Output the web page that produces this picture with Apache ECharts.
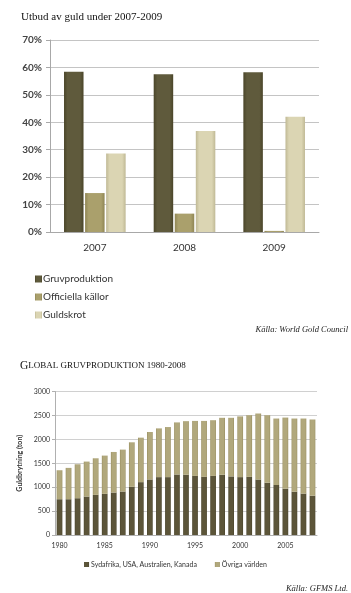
<!DOCTYPE html>
<html>
<head>
<meta charset="utf-8">
<script src="https://cdn.jsdelivr.net/npm/echarts@6/dist/echarts.min.js"></script>
<style>
  html, body { margin: 0; padding: 0; background: #fff; }
  #chart { width: 351px; height: 593px; }
</style>
</head>
<body>
<div id="chart"></div>
<script>
// top chart: supply shares 2007-2009 (percent)
const supplyYears = ['2007', '2008', '2009']
const supplyNames = ['Gruvproduktion', 'Officiella källor', 'Guldskrot']
const mineShare = [58.4, 57.5, 58.2]
const officialShare = [14.2, 6.7, 0.4]
const scrapShare = [28.6, 36.8, 42.0]

// bottom chart: mine production 1980-2008 (ton)
const prodYears = ['1980', '1981', '1982', '1983', '1984', '1985', '1986', '1987', '1988', '1989',
  '1990', '1991', '1992', '1993', '1994', '1995', '1996', '1997', '1998', '1999',
  '2000', '2001', '2002', '2003', '2004', '2005', '2006', '2007', '2008']
const prodNames = ['Sydafrika, USA, Australien, Kanada', 'Övriga världen']
const bigFour = [748, 748, 769, 804, 839, 860, 888, 909, 1007, 1105,
  1161, 1210, 1210, 1265, 1260, 1235, 1215, 1235, 1260, 1225,
  1210, 1215, 1160, 1093, 1045, 968, 905, 866, 821]
const restOfWorld = [606, 655, 710, 731, 765, 800, 848, 876, 931, 930,
  992, 1019, 1047, 1089, 1120, 1150, 1170, 1165, 1190, 1225,
  1270, 1290, 1380, 1412, 1390, 1487, 1530, 1569, 1594]

const sans = 'Lato'
const serif = 'Liberation Serif'

function bevel(edge, mid) {
  return new echarts.graphic.LinearGradient(0, 0, 1, 0, [
    { offset: 0, color: edge },
    { offset: 0.18, color: mid },
    { offset: 0.82, color: mid },
    { offset: 1, color: edge }
  ])
}

const chart = echarts.init(document.getElementById('chart'))

const options = {
  animation: false,
  backgroundColor: '#fff',
  title: [
    {
      text: 'Utbud av guld under 2007-2009',
      left: 21, top: 12, padding: 0,
      textStyle: { fontFamily: serif, fontSize: 11, fontWeight: 'normal', color: '#111' }
    },
    {
      text: 'Källa: World Gold Council',
      right: 3, top: 325, padding: 0,
      textStyle: { fontFamily: serif, fontStyle: 'italic', fontSize: 8.5, fontWeight: 'normal', color: '#222' }
    },
    {
      text: '{a|G}{b|LOBAL GRUVPRODUKTION 1980-2008}',
      left: 20, top: 360, padding: 0,
      textStyle: {
        fontWeight: 'normal',
        rich: {
          a: { fontFamily: serif, fontSize: 11.5, fontWeight: 'normal', color: '#111' },
          b: { fontFamily: serif, fontSize: 9, fontWeight: 'normal', color: '#111' }
        }
      }
    },
    {
      text: 'Källa: GFMS Ltd.',
      right: 3, top: 584, padding: 0,
      textStyle: { fontFamily: serif, fontStyle: 'italic', fontSize: 8.5, fontWeight: 'normal', color: '#222' }
    }
  ],
  legend: [
    {
      data: supplyNames,
      orient: 'vertical',
      left: 30, top: 269,
      icon: 'rect',
      itemWidth: 7, itemHeight: 7, itemGap: 8,
      textStyle: { fontFamily: sans, fontSize: 10, color: '#333', padding: [0, 0, 0, -4] }
    },
    {
      data: prodNames,
      left: 'center', top: 556,
      icon: 'rect',
      itemWidth: 5, itemHeight: 5, itemGap: 18,
      textStyle: { fontFamily: sans, fontSize: 7, color: '#333', padding: [0, 0, 0, -3] }
    }
  ],
  grid: [
    { left: 50, right: 32, top: 40, bottom: 361 },
    { left: 55, right: 34, top: 391.5, bottom: 58 }
  ],
  xAxis: [
    {
      gridIndex: 0,
      type: 'category',
      data: supplyYears,
      axisLine: { lineStyle: { color: '#a8a8a8' } },
      axisTick: { length: 4, lineStyle: { color: '#a8a8a8' } },
      axisLabel: { fontFamily: sans, fontSize: 10, color: '#333', margin: 11 }
    },
    {
      gridIndex: 1,
      type: 'category',
      data: prodYears,
      axisLine: { lineStyle: { color: '#b0b0b0' } },
      axisTick: { interval: 0, length: 3, lineStyle: { color: '#b0b0b0' } },
      axisLabel: { interval: 4, fontFamily: sans, fontSize: 7, color: '#333', margin: 7 }
    }
  ],
  yAxis: [
    {
      gridIndex: 0,
      type: 'value',
      min: 0, max: 70, interval: 10,
      axisLine: { show: true, lineStyle: { color: '#a8a8a8' } },
      axisTick: { show: true, length: 4, lineStyle: { color: '#a8a8a8' } },
      splitLine: { lineStyle: { color: '#c4c4c4' } },
      axisLabel: { formatter: '{value}%', fontFamily: sans, fontSize: 10, fontWeight: 'bold', color: '#444', margin: 8 }
    },
    {
      gridIndex: 1,
      type: 'value',
      min: 0, max: 3000, interval: 500,
      name: 'Guldbrytning (ton)',
      nameLocation: 'middle',
      nameGap: 23,
      nameTextStyle: { fontFamily: sans, fontSize: 7, fontWeight: 'bold', color: '#333' },
      axisLine: { show: true, lineStyle: { color: '#b0b0b0' } },
      axisTick: { show: true, length: 3, lineStyle: { color: '#b0b0b0' } },
      splitLine: { lineStyle: { color: '#d0d0d0' } },
      axisLabel: { formatter: (v) => String(v), fontFamily: sans, fontSize: 7, color: '#333', margin: 5 }
    }
  ],
  series: [
    {
      name: supplyNames[0], type: 'bar', xAxisIndex: 0, yAxisIndex: 0,
      data: mineShare, barWidth: 19.5, barGap: '8%',
      itemStyle: { color: bevel('#4a4529', '#5f5a3c') }
    },
    {
      name: supplyNames[1], type: 'bar', xAxisIndex: 0, yAxisIndex: 0,
      data: officialShare, barWidth: 19.5, barGap: '8%',
      itemStyle: { color: bevel('#8f8554', '#aaa06c') }
    },
    {
      name: supplyNames[2], type: 'bar', xAxisIndex: 0, yAxisIndex: 0,
      data: scrapShare, barWidth: 19.5, barGap: '8%',
      itemStyle: { color: bevel('#c0b995', '#dbd5b3') }
    },
    {
      name: prodNames[0], type: 'bar', xAxisIndex: 1, yAxisIndex: 1,
      stack: 'prod', data: bigFour, barWidth: 5.7,
      itemStyle: { color: bevel('#47422a', '#5c5539') }
    },
    {
      name: prodNames[1], type: 'bar', xAxisIndex: 1, yAxisIndex: 1,
      stack: 'prod', data: restOfWorld, barWidth: 5.7,
      itemStyle: { color: bevel('#958b5c', '#b1a87c') }
    }
  ]
}

chart.setOption(options)
</script>
</body>
</html>
